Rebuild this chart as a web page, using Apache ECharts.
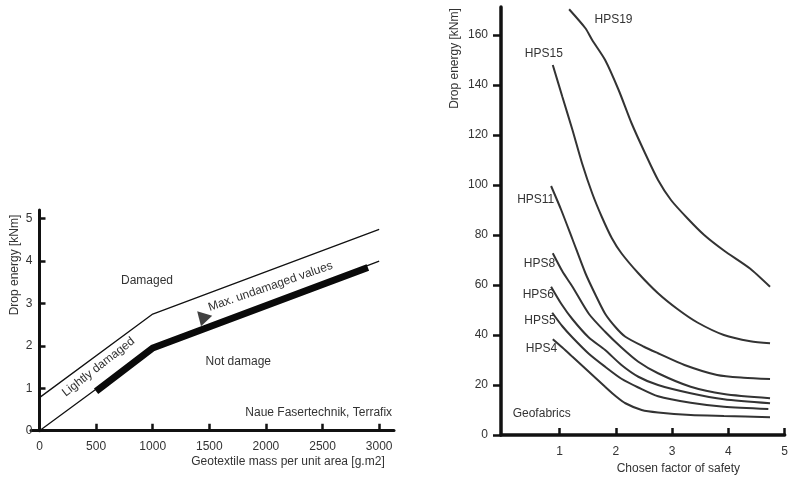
<!DOCTYPE html>
<html>
<head>
<meta charset="utf-8">
<script src="https://cdn.jsdelivr.net/npm/echarts@6/dist/echarts.min.js"></script>
<style>html,body{margin:0;padding:0;background:#fff}#c{width:791px;height:482px}</style>
</head>
<body>
<div id="c"></div>
<script>
// ---- Left chart data (geotextile mass vs drop energy)
var leftXTicks = [0, 500, 1000, 1500, 2000, 2500, 3000];
var leftYTicks = [0, 1, 2, 3, 4, 5];
var upperBoundary = [[0, 0.78], [1000, 2.75], [3000, 4.75]];
var lowerBoundary = [[0, 0], [1000, 1.96], [3000, 4.0]];
var maxUndamaged = [[500, 0.93], [1000, 1.95], [2900, 3.85]];
var arrowPoint = [[1459, 2.64]];

// ---- Right chart data (factor of safety vs drop energy)
var rightXTicks = [1, 2, 3, 4, 5];
var hps19 = [[1.17,170.3],[1.46,162.7],[1.58,158],[1.81,150],[2.05,138],[2.28,124.7],[2.52,112.7],[2.75,102],[2.98,94],[3.28,86.5],[3.57,80],[3.92,73.8],[4.39,66.5],[4.74,59.3]];
var hps15 = [[0.88,148],[1.05,135.3],[1.23,122],[1.4,108.7],[1.58,96.7],[1.75,87.3],[1.93,78.7],[2.1,72.7],[2.4,64.7],[2.75,56.7],[3.1,50.3],[3.45,45],[3.92,40],[4.39,37.5],[4.74,36.7]];
var hps11 = [[0.85,99.6],[1.03,90],[1.23,78.3],[1.46,64.7],[1.64,56],[1.81,48.5],[2.0,43],[2.17,39.3],[2.5,35.3],[2.75,32.7],[3.22,28],[3.8,24],[4.27,22.9],[4.74,22.4]];
var hps8 = [[0.88,72.7],[1.05,65.5],[1.23,59.3],[1.52,48.5],[1.81,41.3],[2.1,35],[2.4,29.3],[2.75,24.7],[3.33,19.3],[3.92,16.4],[4.74,14.7]];
var hps6 = [[0.85,59.3],[1.03,52.5],[1.23,46.3],[1.52,39],[1.81,34],[2.1,28],[2.4,23.3],[2.75,20],[3.33,16.7],[3.92,14.3],[4.74,12.7]];
var hps5 = [[0.87,48.9],[1.05,43.5],[1.23,39],[1.52,32.5],[1.81,27.3],[2.1,22.5],[2.4,19],[2.75,15.5],[3.33,12.9],[3.92,11.3],[4.71,10.4]];
var hps4 = [[0.88,38.3],[1.05,35],[1.23,31.3],[1.52,25.3],[1.81,19.3],[2.0,15.5],[2.17,12.7],[2.46,10],[2.75,9],[3.33,8],[3.92,7.6],[4.74,7.1]];

var FONT = '"Liberation Sans", Arial, sans-serif';
var TXT = '#333';
var AX = '#111';

function txt(text, x, y, rotDeg, size) {
  return {
    type: 'text', x: x, y: y, rotation: (rotDeg || 0) * Math.PI / 180,
    style: { text: text, x: 0, y: 0, align: 'center', verticalAlign: 'middle',
             font: (size || 12) + 'px ' + FONT, fill: TXT }
  };
}

function curve(data) {
  return { type: 'line', xAxisIndex: 1, yAxisIndex: 1, data: data, symbol: 'none',
           smooth: 0.25, lineStyle: { width: 2, color: '#333' }, silent: true };
}

var chart = echarts.init(document.getElementById('c'), null, { renderer: 'canvas' });
chart.setOption({
  animation: false,
  backgroundColor: '#fff',
  textStyle: { fontFamily: FONT },
  grid: [
    { left: 31, top: 210, width: 363, height: 220.7 },
    { left: 501, top: 7, width: 287, height: 428 }
  ],
  xAxis: [
    { type: 'value', gridIndex: 0, min: -75, max: 3131,
      name: 'Geotextile mass per unit area [g.m2]', nameLocation: 'middle', nameGap: 25,
      nameTextStyle: { fontSize: 12, color: TXT, fontFamily: FONT, padding: [0, 0, 0, 151] },
      axisLine: { onZero: false, lineStyle: { color: AX, width: 3 } },
      axisTick: { inside: true, length: 7, customValues: leftXTicks, lineStyle: { color: AX, width: 2.5 } },
      axisLabel: { customValues: leftXTicks, margin: 10, fontSize: 12, color: TXT, fontFamily: FONT,
                   formatter: function (v) { return String(v); } },
      splitLine: { show: false } },
    { type: 'value', gridIndex: 1, min: -0.04, max: 5.0,
      name: 'Chosen factor of safety', nameLocation: 'middle', nameGap: 15,
      nameTextStyle: { fontSize: 12, color: TXT, fontFamily: FONT, padding: [0, 0, 0, 71] },
      axisLine: { onZero: false, lineStyle: { color: AX, width: 3.5 } },
      axisTick: { inside: true, length: 7, customValues: rightXTicks, lineStyle: { color: AX, width: 2.5 } },
      axisLabel: { customValues: rightXTicks, margin: 11, fontSize: 12, color: TXT, fontFamily: FONT },
      splitLine: { show: false } }
  ],
  yAxis: [
    { type: 'value', gridIndex: 0, min: 0, max: 5.205, offset: -8.5,
      axisLine: { onZero: false, lineStyle: { color: AX, width: 3 } },
      axisTick: { inside: true, length: 6, customValues: leftYTicks, lineStyle: { color: AX, width: 2.5 } },
      axisLabel: { customValues: leftYTicks, margin: 7, fontSize: 12, color: TXT, fontFamily: FONT },
      splitLine: { show: false } },
    { type: 'value', gridIndex: 1, min: 0, max: 171.2, interval: 20,
      axisLine: { onZero: false, lineStyle: { color: AX, width: 3.5 } },
      axisTick: { inside: false, length: 8, lineStyle: { color: AX, width: 2.5 } },
      axisLabel: { margin: 13, fontSize: 12, color: TXT, fontFamily: FONT, showMaxLabel: false },
      splitLine: { show: false } }
  ],
  series: [
    { type: 'line', xAxisIndex: 0, yAxisIndex: 0, data: upperBoundary, symbol: 'none', silent: true,
      lineStyle: { width: 1.3, color: '#111' } },
    { type: 'line', xAxisIndex: 0, yAxisIndex: 0, data: lowerBoundary, symbol: 'none', silent: true,
      lineStyle: { width: 1.3, color: '#111' } },
    { type: 'line', xAxisIndex: 0, yAxisIndex: 0, data: maxUndamaged, symbol: 'none', silent: true,
      lineStyle: { width: 7, color: '#0a0a0a', cap: 'butt', join: 'miter' } },
    { type: 'scatter', xAxisIndex: 0, yAxisIndex: 0, data: arrowPoint, silent: true,
      symbol: 'path://M0,0L43,13L11,43Z', symbolSize: [15, 15], itemStyle: { color: '#111' } },
    curve(hps19), curve(hps15), curve(hps11), curve(hps8), curve(hps6), curve(hps5), curve(hps4)
  ],
  graphic: [
    txt('Drop energy [kNm]', 15, 265, 90),
    txt('Damaged', 147, 281),
    txt('Lightly damaged', 98.5, 367, 38),
    txt('Max. undamaged values', 270.5, 286.5, 19),
    txt('Not damage', 238.3, 361.7),
    txt('Naue Fasertechnik, Terrafix', 318.7, 412.3),
    txt('Drop energy [kNm]', 455, 58.5, 90),
    txt('HPS19', 613.5, 19.3),
    txt('HPS15', 543.8, 54),
    txt('HPS11', 535.7, 199.3),
    txt('HPS8', 539.5, 263.3),
    txt('HPS6', 538.3, 295),
    txt('HPS5', 540, 320.7),
    txt('HPS4', 541.5, 348.3),
    txt('Geofabrics', 541.7, 414)
  ]
});
</script>
</body>
</html>
